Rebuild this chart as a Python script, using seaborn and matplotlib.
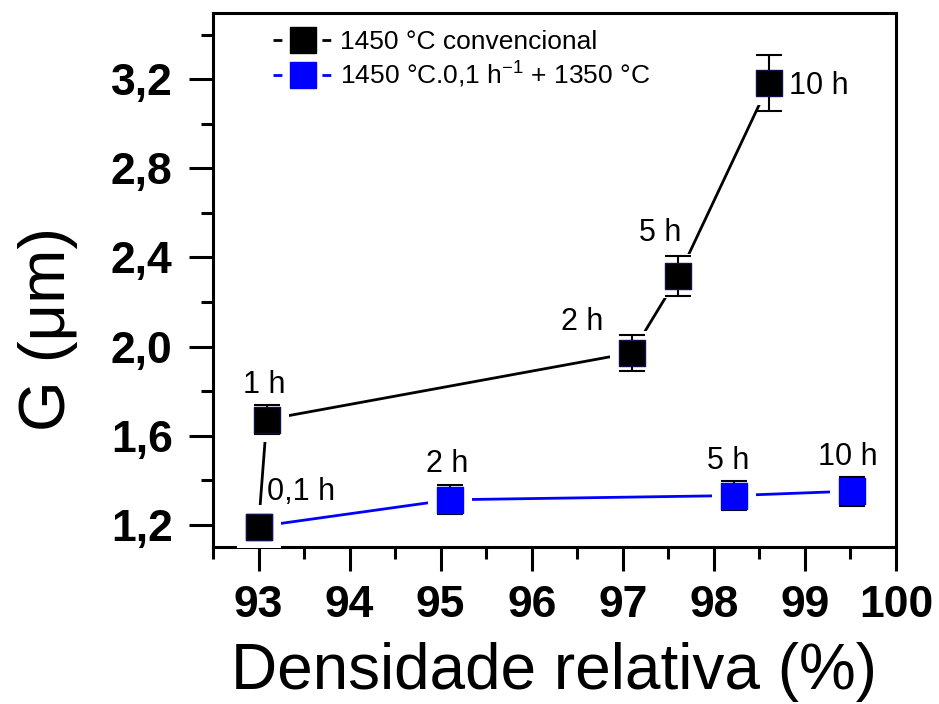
import numpy as np
import pandas as pd
import matplotlib
matplotlib.use("Agg")
import matplotlib.pyplot as plt
from matplotlib.lines import Line2D
import seaborn as sns

# ========================
# DATA
# ========================
conv_dens = [93.0, 93.09, 97.1, 97.61, 98.61]
conv_g = [1.192, 1.672, 1.972, 2.315, 3.183]
conv_err = [0.03, 0.065, 0.08, 0.09, 0.125]
conv_labels = ["0,1 h", "1 h", "2 h", "5 h", "10 h"]

step_dens = [93.0, 95.1, 98.22, 99.52]
step_g = [1.192, 1.312, 1.331, 1.351]
step_err = [0.03, 0.065, 0.065, 0.065]
step_labels = ["", "2 h", "5 h", "10 h"]

legend_labels = ["1450 °C convencional", "1450 °C.0,1 h$^{-1}$ + 1350 °C"]

x_ticks = [93, 94, 95, 96, 97, 98, 99, 100]
x_ticklabels = ["93", "94", "95", "96", "97", "98", "99", "100"]
y_ticks = [1.2, 1.6, 2.0, 2.4, 2.8, 3.2]
y_ticklabels = ["1,2", "1,6", "2,0", "2,4", "2,8", "3,2"]

# label offsets (points) and alignment
conv_offsets = [(6, 25, "left"), (-1.5, 25, "center"), (-36, 22, "center"),
                (-13, 31, "center"), (14, -2, "left")]
step_offsets = [(0, 0, "center"), (-2, 26, "center"), (-4, 25, "center"),
                (-3, 24.5, "center")]

BLUE = "#0000FF"
BLACK = "#000000"

# ========================
# STYLE
# ========================
sns.set_style("ticks")
plt.rcParams["font.family"] = ["Liberation Sans", "DejaVu Sans"]
plt.rcParams["mathtext.fontset"] = "custom"
plt.rcParams["mathtext.rm"] = "Liberation Sans"
plt.rcParams["mathtext.it"] = "Liberation Sans:italic"
plt.rcParams["mathtext.bf"] = "Liberation Sans:bold"
plt.rcParams["mathtext.default"] = "regular"
for key in ("text.color", "axes.labelcolor", "xtick.color", "ytick.color",
            "axes.edgecolor"):
    plt.rcParams[key] = BLACK

conv = pd.DataFrame({"dens": conv_dens, "G": conv_g, "err": conv_err})
step = pd.DataFrame({"dens": step_dens, "G": step_g, "err": step_err})

fig = plt.figure(figsize=(9.39, 7.04), dpi=100)
ax = fig.add_axes([0.2268, 0.2230, 0.7274, 0.7592])

# lines
sns.lineplot(data=step, x="dens", y="G", color=BLUE, lw=2, sort=False,
             legend=False, ax=ax, zorder=1)
sns.lineplot(data=conv, x="dens", y="G", color=BLACK, lw=2, sort=False,
             legend=False, ax=ax, zorder=1.1)

# white halo around markers (gap in lines)
for df in (step, conv):
    sns.scatterplot(data=df, x="dens", y="G", marker="s", s=960,
                    color="white", linewidth=0, ax=ax, zorder=3, legend=False)

# error bars
for df in (step, conv):
    ax.errorbar(df["dens"], df["G"], yerr=df["err"], fmt="none",
                ecolor=BLACK, elinewidth=1.5, capsize=9.5, capthick=1.5,
                zorder=3.5)

# markers
sns.scatterplot(data=step, x="dens", y="G", marker="s", s=340, color=BLUE,
                edgecolor=BLUE, linewidth=1, ax=ax, zorder=4, legend=False)
sns.scatterplot(data=conv, x="dens", y="G", marker="s", s=340, color=BLACK,
                edgecolor="#10104a", linewidth=1, ax=ax, zorder=4.1,
                legend=False)

# point labels
for df, labels, offs in ((conv, conv_labels, conv_offsets),
                         (step, step_labels, step_offsets)):
    for (x, y), lab, (dx, dy, ha) in zip(df[["dens", "G"]].values, labels, offs):
        if not lab:
            continue
        ax.annotate(lab, xy=(x, y), xytext=(dx, dy), textcoords="offset points",
                    ha=ha, va="center", fontsize=22, zorder=6)

# axes
ax.set_xlim(92.5, 100)
ax.set_ylim(1.1, 3.5)
ax.set_xticks(x_ticks, x_ticklabels, fontsize=32, fontweight="bold")
ax.set_yticks(y_ticks, y_ticklabels, fontsize=32, fontweight="bold")
ax.set_xticks(np.arange(92.5, 100, 1.0), minor=True)
ax.set_yticks(np.arange(1.4, 3.5, 0.4), minor=True)
ax.tick_params(axis="both", which="major", direction="out", length=17,
               width=2.2, color=BLACK)
ax.tick_params(axis="both", which="minor", direction="out", length=8.5,
               width=2.2, color=BLACK)
ax.tick_params(axis="x", which="major", pad=10)
ax.tick_params(axis="y", which="major", pad=12)
for s in ax.spines.values():
    s.set_linewidth(2.2)
    s.set_color(BLACK)

ax.set_xlabel("Densidade relativa (%)", fontsize=46, labelpad=12)
ax.set_ylabel("G (μm)", fontsize=47)
ax.yaxis.set_label_coords(-0.197, 0.408)

# legend
handles = [
    Line2D([], [], color=BLACK, lw=2, linestyle=(0, (3.2, 14.4)), marker="s",
           ms=18.5, mfc=BLACK, mec=BLACK),
    Line2D([], [], color=BLUE, lw=2, linestyle=(0, (3.2, 14.4)), marker="s",
           ms=18.5, mfc=BLUE, mec=BLUE),
]
ax.legend(handles, legend_labels, loc="upper left",
          bbox_to_anchor=(0.088, 0.967), frameon=False, fontsize=19,
          handlelength=2.24, handletextpad=0.3, labelspacing=0.2,
          borderpad=0, borderaxespad=0)

fig.savefig("out.png", dpi=100)
